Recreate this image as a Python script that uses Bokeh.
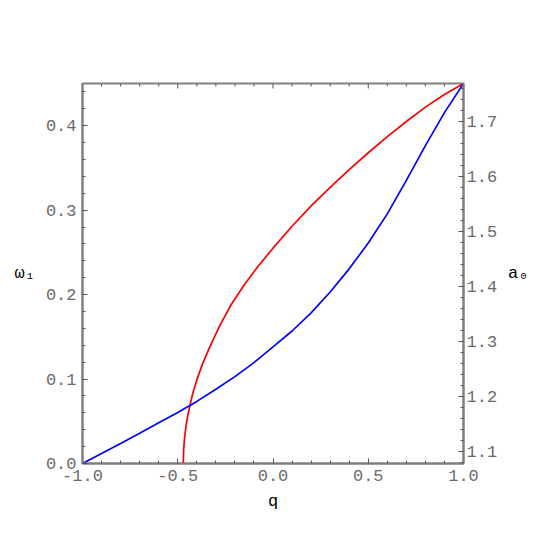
import numpy as np
from bokeh.plotting import figure
from bokeh.models import LinearAxis, Range1d, SingleIntervalTicker, PrintfTickFormatter
from bokeh.embed import file_html
from bokeh.resources import INLINE

# red curve: omega_1 (left axis) vs q
q_red = [-0.471, -0.469, -0.466, -0.462, -0.456, -0.448, -0.437, -0.42, -0.40, -0.37,
         -0.33, -0.28, -0.22, -0.15, -0.08, 0.0, 0.1, 0.2, 0.3, 0.4, 0.5, 0.6, 0.7,
         0.8, 0.9, 1.0]
w_red = [0.0, 0.016, 0.026, 0.035, 0.045, 0.056, 0.068, 0.084, 0.099, 0.118,
         0.139, 0.163, 0.188, 0.212, 0.233, 0.255, 0.281, 0.305, 0.327, 0.348, 0.368,
         0.387, 0.405, 0.422, 0.437, 0.45]

# blue curve: a_0 (right axis) vs q
q_blue = [-1.0, -0.9, -0.8, -0.7, -0.6, -0.5, -0.4, -0.3, -0.2, -0.1, 0.0, 0.1, 0.2,
          0.3, 0.4, 0.5, 0.6, 0.7, 0.8, 0.9, 1.0]
a_blue = [1.0776, 1.0958, 1.114, 1.1325, 1.1515, 1.1705, 1.1905, 1.2125, 1.2355, 1.261,
          1.2895, 1.3185, 1.3515, 1.3895, 1.4315, 1.4785, 1.5315, 1.5925, 1.6555,
          1.7155, 1.7685]

x_major = 0.5
y_major = 0.1
a_major = 0.1
n_minor = 5

X0, X1 = -1.0, 1.0
Y0, Y1 = 0.0, 0.45
A0, A1 = 1.0776, 1.7685

FRAME = "#808080"
TICK = "#555555"
LABEL = "#6a6a6a"
MONO = "Liberation Mono"

FW, FH = 381, 380
p = figure(width=537, height=537, output_backend="svg", toolbar_location=None,
           x_range=Range1d(X0, X1), y_range=Range1d(Y0, Y1),
           min_border_left=82, min_border_right=74, min_border_top=83, min_border_bottom=74)
p.extra_y_ranges = {"a0": Range1d(A0, A1)}
p.grid.visible = False
p.background_fill_color = "white"
p.outline_line_color = FRAME
p.outline_line_width = 2


def style(ax, interval):
    ax.ticker = SingleIntervalTicker(interval=interval, num_minor_ticks=n_minor)
    ax.formatter = PrintfTickFormatter(format="%.1f")
    ax.axis_line_color = FRAME
    ax.axis_line_width = 2
    ax.major_tick_in = 5
    ax.major_tick_out = 0
    ax.minor_tick_in = 3
    ax.minor_tick_out = 0
    ax.major_tick_line_color = TICK
    ax.minor_tick_line_color = TICK
    ax.major_label_text_font = MONO
    ax.major_label_text_font_size = "17px"
    ax.major_label_text_color = LABEL
    ax.axis_label_text_font = MONO
    ax.axis_label_text_font_size = "17px"
    ax.axis_label_text_font_style = "normal"
    ax.axis_label_text_color = "black"


xa = p.xaxis[0]
style(xa, x_major)
xa.axis_label = "q"
xa.major_label_standoff = 6
xa.axis_label_standoff = 8

ya = p.yaxis[0]
style(ya, y_major)
ya.axis_label = "ω₁"
ya.axis_label_orientation = "horizontal"
ya.major_label_standoff = 6
ya.axis_label_standoff = 8

ra = LinearAxis(y_range_name="a0")
style(ra, a_major)
ra.axis_label = "a₀"
ra.axis_label_orientation = "horizontal"
ra.major_label_standoff = 3
ra.axis_label_standoff = 8
p.add_layout(ra, "right")

# inward ticks along the top frame edge (mirroring the q ticks)
minor_step = x_major / n_minor
top_ticks = np.round(np.arange(X0, X1 + 1e-9, minor_step), 6)
is_major = np.isclose(np.round(top_ticks / x_major) * x_major, top_ticks)
px_to_y = (Y1 - Y0) / FH
tick_len = np.where(is_major, 5, 3) * px_to_y
p.segment(x0=top_ticks, y0=np.full(len(top_ticks), Y1), x1=top_ticks, y1=Y1 - tick_len,
          line_color=TICK, line_width=1)

p.line(q_red, w_red, line_color="#ff0000", line_width=1.7)
p.line(q_blue, a_blue, line_color="#0000ff", line_width=1.7, y_range_name="a0")

open("out.html", "w").write(file_html(p, INLINE))
